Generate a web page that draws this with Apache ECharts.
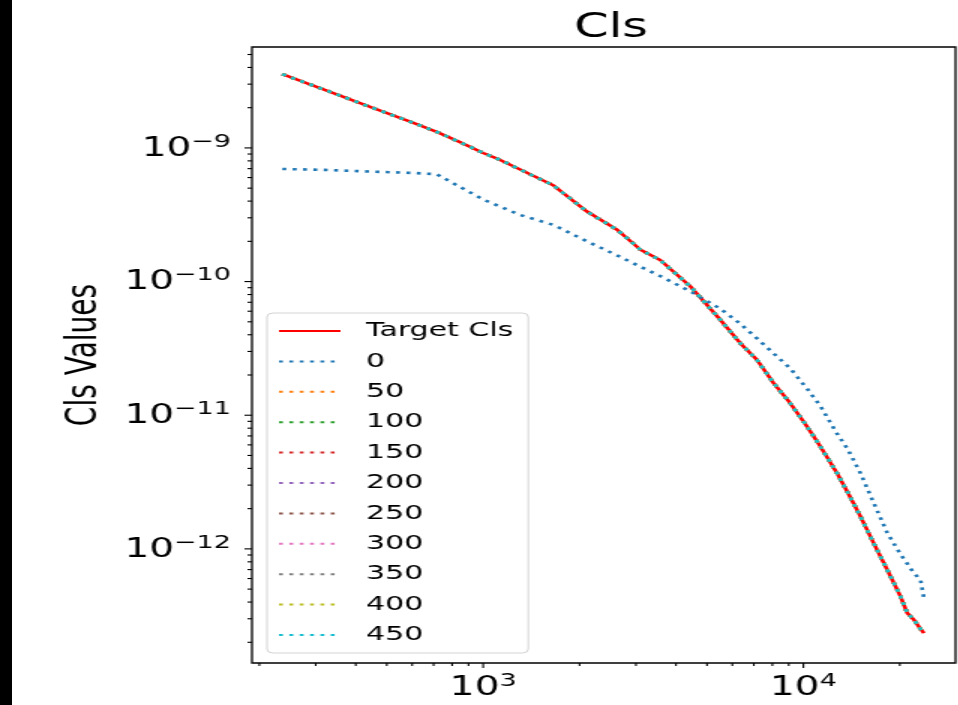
<!DOCTYPE html>
<html>
<head>
<meta charset="utf-8">
<script src="https://cdn.jsdelivr.net/npm/echarts@6/dist/echarts.min.js"></script>
<style>
  html, body { margin: 0; padding: 0; background: #fff; overflow: hidden; }
  #wrap { position: relative; width: 958px; height: 705px; overflow: hidden; background: #fff; }
  /* the figure is laid out narrow and widened horizontally */
  #chart { position: absolute; left: 0; top: 0; width: 638.667px; height: 705px;
           transform: scaleX(1.5); transform-origin: 0 0; }
  #edge { position: absolute; left: 0; top: 0; width: 12px; height: 705px; background: #000; }
</style>
</head>
<body>
<div id="wrap"><div id="chart"></div><div id="edge"></div></div>
<script>
// multipole bins
const ells = [236, 320, 450, 600, 716, 850, 1000, 1130, 1300, 1660, 2110, 2620, 3100, 3570,
  4440, 5500, 6350, 7160, 8070, 9100, 10270, 11300, 12740, 13770, 15070, 16590, 18270,
  20100, 21100, 22130, 23210, 23790];

// reference spectrum
const targetCls = [3.56e-9, 2.72e-9, 2.00e-9, 1.55e-9, 1.32e-9, 1.10e-9, 9.16e-10, 8.13e-10,
  6.92e-10, 5.23e-10, 3.34e-10, 2.44e-10, 1.73e-10, 1.45e-10, 9.18e-11, 5.18e-11, 3.46e-11,
  2.60e-11, 1.74e-11, 1.23e-11, 8.22e-12, 5.83e-12, 3.68e-12, 2.63e-12, 1.75e-12, 1.10e-12,
  6.98e-13, 4.41e-13, 3.31e-13, 2.95e-13, 2.52e-13, 2.34e-13];

// spectrum at iteration 0
const cls0 = [6.96e-10, 6.85e-10, 6.65e-10, 6.50e-10, 6.36e-10, 5.08e-10, 4.11e-10, 3.64e-10,
  3.16e-10, 2.65e-10, 2.00e-10, 1.57e-10, 1.29e-10, 1.10e-10, 8.43e-11, 6.27e-11, 4.84e-11,
  3.76e-11, 2.90e-11, 2.24e-11, 1.58e-11, 1.17e-11, 7.28e-12, 5.55e-12, 3.69e-12, 2.20e-12,
  1.32e-12, 9.12e-13, 7.76e-13, 6.59e-13, 5.87e-13, 4.28e-13];

// iterations 50..450 have converged onto the reference spectrum
const convergedCls = targetCls;

const iterLabels = ['0', '50', '100', '150', '200', '250', '300', '350', '400', '450'];
const iterColors = ['#1f77b4', '#ff7f0e', '#2ca02c', '#d62728', '#9467bd',
  '#8c564b', '#e377c2', '#7f7f7f', '#bcbd22', '#17becf'];

// axis ranges and tick positions
const xMin = 189.7, xMax = 29854;
const yMin = 1.40e-13, yMax = 5.69e-9;
const xMajorTicks = [1e3, 1e4];
const xMinorTicks = [200, 300, 400, 500, 600, 700, 800, 900,
  2000, 3000, 4000, 5000, 6000, 7000, 8000, 9000, 20000];
const yMajorTicks = [1e-12, 1e-11, 1e-10, 1e-9];
const yMinorTicks = [];
for (let e = -13; e <= -9; e++) {
  for (let k = 2; k <= 9; k++) {
    const v = k * Math.pow(10, e);
    if (v >= yMin && v <= yMax) yMinorTicks.push(v);
  }
}

const FONT = 'DejaVu Sans';
const gridLeft = 168, gridRight = 2, gridTop = 47, gridBottom = 42;
const innerWidth = 958 / 1.5;
const plotCenter = gridLeft + (innerWidth - gridLeft - gridRight) / 2;

function pow10Label(value) {
  const e = Math.log10(value);
  if (Math.abs(e - Math.round(e)) > 1e-6) return '';
  return '{b|10}{s|' + String(Math.round(e)).replace('-', '\u2212') + '}';
}
const labelRich = {
  b: { fontFamily: FONT, fontSize: 26, color: '#000', verticalAlign: 'bottom', lineHeight: 28 },
  s: { fontFamily: FONT, fontSize: 18, color: '#000', verticalAlign: 'bottom', lineHeight: 20,
       padding: [0, 0, 11, 0] }
};

function tickSeries(axis, values, len) {
  return {
    type: 'custom',
    silent: true,
    clip: false,
    animation: false,
    data: values.map(v => axis === 'x' ? [v, yMin] : [xMin, v]),
    renderItem(params, api) {
      const cs = params.coordSys;
      const p = api.coord([api.value(0), api.value(1)]);
      let shape;
      if (axis === 'x') {
        const y0 = cs.y + cs.height;
        shape = { x1: p[0], y1: y0, x2: p[0], y2: y0 + len };
      } else {
        shape = { x1: cs.x - len, y1: p[1], x2: cs.x, y2: p[1] };
      }
      return { type: 'line', shape, style: { stroke: '#000', lineWidth: 1.1 } };
    }
  };
}

const toPairs = arr => ells.map((l, i) => [l, arr[i]]);

const series = [{
  name: 'Target Cls',
  type: 'line',
  data: toPairs(targetCls),
  symbol: 'none',
  lineStyle: { color: '#ff0000', width: 2.6 },
  itemStyle: { color: '#ff0000' },
  animation: false
}];
iterLabels.forEach((lab, i) => {
  series.push({
    name: lab,
    type: 'line',
    data: toPairs(i === 0 ? cls0 : convergedCls),
    symbol: 'none',
    lineStyle: { color: iterColors[i], width: 2.6, type: [2.6, 4.3] },
    itemStyle: { color: iterColors[i] },
    animation: false
  });
});
series.push(tickSeries('x', xMajorTicks, 5));
series.push(tickSeries('x', xMinorTicks, 3));
series.push(tickSeries('y', yMajorTicks, 5));
series.push(tickSeries('y', yMinorTicks, 3));

const chart = echarts.init(document.getElementById('chart'), null, { renderer: 'canvas' });
chart.setOption({
  backgroundColor: '#fff',
  animation: false,
  title: {
    text: 'Cls',
    left: plotCenter,
    top: 7,
    textAlign: 'center',
    textStyle: { fontFamily: FONT, fontSize: 33, fontWeight: 'normal', color: '#000' }
  },
  grid: {
    left: gridLeft, right: gridRight, top: gridTop, bottom: gridBottom,
    show: true, borderColor: '#000', borderWidth: 1.3, backgroundColor: '#fff'
  },
  legend: {
    data: ['Target Cls'].concat(iterLabels),
    orient: 'vertical',
    left: 178,
    top: 313,
    itemWidth: 41,
    itemHeight: 14,
    itemGap: 10.4,
    padding: [8, 10, 8, 7],
    backgroundColor: '#fff',
    borderColor: '#d4d4d4',
    borderWidth: 1,
    borderRadius: 4,
    selectedMode: false,
    itemStyle: { opacity: 0 },
    textStyle: { fontFamily: FONT, fontSize: 20, lineHeight: 20, color: '#000', padding: [0, 0, 0, 12] }
  },
  xAxis: {
    type: 'log',
    logBase: 10,
    min: xMin,
    max: xMax,
    axisLine: { show: false },
    axisTick: { show: false },
    splitLine: { show: false },
    minorTick: { show: false },
    axisLabel: { formatter: pow10Label, rich: labelRich, margin: 10, showMinLabel: false, showMaxLabel: false }
  },
  yAxis: {
    type: 'log',
    logBase: 10,
    min: yMin,
    max: yMax,
    name: 'Cls Values',
    nameLocation: 'middle',
    nameGap: 97,
    nameRotate: 90,
    nameTextStyle: { fontFamily: FONT, fontSize: 28, color: '#000' },
    axisLine: { show: false },
    axisTick: { show: false },
    splitLine: { show: false },
    minorTick: { show: false },
    axisLabel: { formatter: pow10Label, rich: labelRich, margin: 14, showMinLabel: false, showMaxLabel: false }
  },
  series: series
});
</script>
</body>
</html>
